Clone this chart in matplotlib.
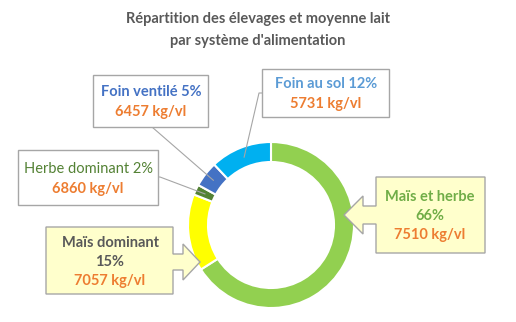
import matplotlib
matplotlib.use("Agg")
import numpy as np
import matplotlib.pyplot as plt
from matplotlib.patches import Polygon, Rectangle

# Données
categories = ["Maïs et herbe", "Maïs dominant", "Herbe dominant", "Foin ventilé", "Foin au sol"]
parts = [66, 15, 2, 5, 12]
lait = [7510, 7057, 6860, 6457, 5731]
couleurs = ["#92D050", "#FFFF00", "#548235", "#4472C4", "#00B0F0"]

W, H = 516, 322
FONT = "Lato"
ORANGE = "#ED7D31"
GRIS = "#595959"
BORD = "#A6A6A6"


def py(y):
    # coordonnées pixel (haut -> bas) vers coordonnées données
    return H - y


fig = plt.figure(figsize=(W / 100, H / 100), dpi=100)
ax = fig.add_axes([0, 0, 1, 1])

cx, cy = 271, 225
R, r = 83, 63
ax.pie(parts, colors=couleurs, startangle=90, counterclock=False,
       center=(cx, py(cy)), radius=R,
       wedgeprops=dict(width=R - r, edgecolor="white", linewidth=1.5))
ax.set_xlim(0, W)
ax.set_ylim(0, H)
ax.set_aspect("equal")
ax.axis("off")

# Titre
ax.text(W / 2, py(19), "Répartition des élevages et moyenne lait", ha="center", va="center",
        fontsize=10.5, fontweight="bold", color=GRIS, family=FONT)
ax.text(W / 2, py(41), "par système d'alimentation", ha="center", va="center",
        fontsize=10.5, fontweight="bold", color=GRIS, family=FONT)


def mid_point(i, rad):
    frac = (sum(parts[:i]) + parts[i] / 2) / sum(parts)
    th = 2 * np.pi * frac
    return cx + rad * np.sin(th), cy - rad * np.cos(th)


def boite(x0, y0, x1, y1, fond="white"):
    ax.add_patch(Rectangle((x0, py(y1)), x1 - x0, y1 - y0, facecolor=fond,
                           edgecolor=BORD, linewidth=1, zorder=3))


def lignes(xc, ys, textes, couls, poids):
    for y, t, c, w in zip(ys, textes, couls, poids):
        ax.text(xc, py(y), t, ha="center", va="center", fontsize=10.5, color=c,
                fontweight=w, family=FONT, zorder=4)


def fleche(pts):
    ax.add_patch(Polygon([(x, py(y)) for x, y in pts], closed=True, facecolor="#FFFFCC",
                         edgecolor=BORD, linewidth=1, zorder=3))


rm = (R + r) / 2

# Foin ventilé
mx, my = mid_point(3, rm)
ax.plot([152, mx], [py(127), py(my)], color=BORD, lw=0.8, zorder=2)
boite(93, 75, 208, 127)
lignes(151, [92, 112], [f"{categories[3]} {parts[3]}%", f"{lait[3]} kg/vl"],
       ["#4472C4", ORANGE], ["bold", "bold"])

# Herbe dominant
mx, my = mid_point(2, rm)
ax.plot([158, 160, mx], [py(177), py(177), py(my)], color=BORD, lw=0.8, zorder=2)
boite(18, 150, 158, 205)
lignes(88, [169, 189], [f"{categories[2]} {parts[2]}%", f"{lait[2]} kg/vl"],
       ["#548235", ORANGE], ["normal", "bold"])

# Foin au sol
mx, my = mid_point(4, rm)
ax.plot([262, 259, mx], [py(93), py(93), py(my)], color=BORD, lw=0.8, zorder=2)
boite(262, 69, 389, 117)
lignes(326, [84, 104], [f"{categories[4]} {parts[4]}%", f"{lait[4]} kg/vl"],
       ["#5B9BD5", ORANGE], ["bold", "bold"])

# Maïs dominant (flèche vers la droite)
x0, y0, x1, y1 = 46, 227, 173, 294
fleche([(x0, y0), (x1, y0), (x1, 254), (183, 254), (183, 244), (200, 262),
        (183, 280), (183, 270), (x1, 270), (x1, y1), (x0, y1)])
lignes(110, [243, 262, 281], [categories[1], f"{parts[1]}%", f"{lait[1]} kg/vl"],
       [GRIS, GRIS, ORANGE], ["bold", "bold", "bold"])

# Maïs et herbe (flèche vers la gauche)
x0, y0, x1, y1 = 376, 177, 485, 253
fleche([(x0, y0), (x1, y0), (x1, y1), (x0, y1), (x0, 224), (363, 224), (363, 234),
        (344, 215), (363, 196), (363, 206), (x0, 206)])
lignes(430, [197, 216, 235], [categories[0], f"{parts[0]}%", f"{lait[0]} kg/vl"],
       ["#70AD47", "#70AD47", ORANGE], ["bold", "bold", "bold"])

fig.savefig("out.png", dpi=100, facecolor="white")
